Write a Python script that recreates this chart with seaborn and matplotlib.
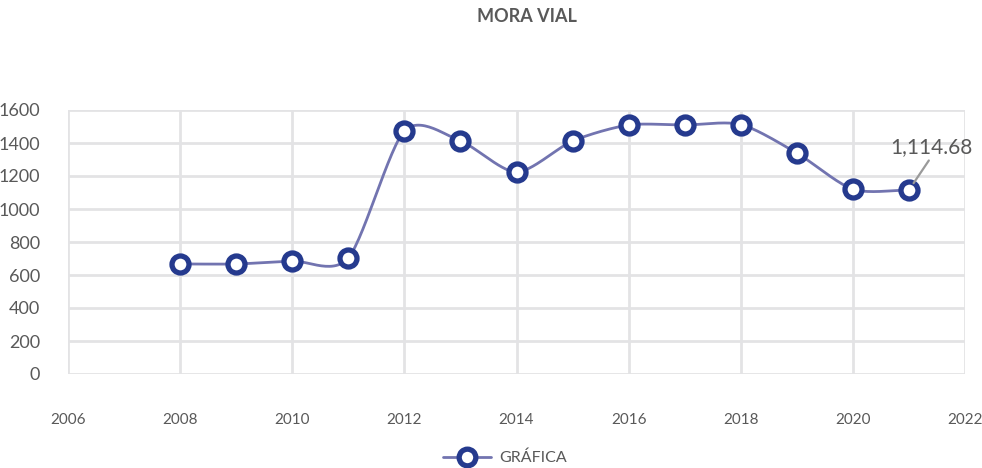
import numpy as np
import pandas as pd
import matplotlib
matplotlib.use("Agg")
import matplotlib.pyplot as plt
import seaborn as sns
from matplotlib.lines import Line2D

years = [2008, 2009, 2010, 2011, 2012, 2013, 2014, 2015, 2016, 2017, 2018, 2019, 2020, 2021]
values = [667, 667, 685, 703, 1473, 1412, 1224, 1412, 1509, 1509, 1512, 1339, 1120, 1114.68]
series_name = "GRÁFICA"
title = "MORA VIAL"
label_text = "1,114.68"

sns.set_theme(style="white")
plt.rcParams['font.family'] = ['Lato', 'DejaVu Sans']

df = pd.DataFrame({"year": years, "value": values})

fig = plt.figure(figsize=(9.82, 4.68), dpi=100)
ax = fig.add_axes([68/982, 1-374/468, (965-68)/982, (374-110)/468])

line_color = "#7274b0"
marker_edge = "#253a8e"
text_color = "#595959"
grid_color = "#e3e3e5"

# Smooth rendering of the line (Catmull-Rom, like spreadsheet smoothing)
def catmull_rom(x, y, n=30, tension=0.4):
    x = np.asarray(x, float); y = np.asarray(y, float)
    px = np.concatenate([[2*x[0]-x[1]], x, [2*x[-1]-x[-2]]])
    py = np.concatenate([[2*y[0]-y[1]], y, [2*y[-1]-y[-2]]])
    xs, ys = [], []
    t = np.linspace(0, 1, n)
    h00 = 2*t**3 - 3*t**2 + 1
    h10 = t**3 - 2*t**2 + t
    h01 = -2*t**3 + 3*t**2
    h11 = t**3 - t**2
    for i in range(1, len(px)-2):
        for arr, out in ((px, xs), (py, ys)):
            p0, p1, p2, p3 = arr[i-1], arr[i], arr[i+1], arr[i+2]
            m1 = tension*(p2 - p0)
            m2 = tension*(p3 - p1)
            out.extend(h00*p1 + h10*m1 + h01*p2 + h11*m2)
    return np.array(xs), np.array(ys)

sx, sy = catmull_rom(df["year"], df["value"])
smooth = pd.DataFrame({"x": sx, "y": sy})
sns.lineplot(data=smooth, x="x", y="y", ax=ax, color=line_color, linewidth=2, sort=False, zorder=3)
sns.scatterplot(data=df, x="year", y="value", ax=ax, s=150, facecolor="white",
                edgecolor=marker_edge, linewidth=3.8, zorder=4)

ax.set_xlim(2006, 2022)
ax.set_ylim(0, 1600)
ax.set_xticks(range(2006, 2023, 2))
ax.set_yticks(range(0, 1601, 200))
ax.grid(True, color=grid_color, linewidth=2)
ax.set_axisbelow(True)
for s in ax.spines.values():
    s.set_visible(False)
ax.tick_params(axis="y", length=0, pad=20, labelsize=13, labelcolor=text_color)
ax.tick_params(axis="x", length=0, pad=28, labelsize=11, labelcolor=text_color)
ax.set_xlabel("")
ax.set_ylabel("")

# data label with leader line
ax.annotate(label_text, xy=(years[-1], values[-1]), xytext=(16, 31),
            textcoords="offset points", zorder=6,
            fontsize=15, color=text_color, ha="center", va="center",
            arrowprops=dict(arrowstyle="-", color="#9a9a9a", lw=1.6,
                            patchA=None, relpos=(0.5, 0.0), shrinkA=3, shrinkB=6))

fig.text(527/982, 1-17/468, title, ha="center", va="center", fontsize=13,
         fontweight="bold", color=text_color)

handle = Line2D([0], [0], color=line_color, lw=2, marker="o", markersize=12,
                markerfacecolor="white", markeredgecolor=marker_edge, markeredgewidth=3.8)
fig.legend([handle], [series_name], loc="center", bbox_to_anchor=(0.514, 1-458/468),
           frameon=False, fontsize=11.5, labelcolor=text_color, handlelength=3.0,
           handletextpad=0.5)

fig.savefig("out.png", dpi=100, facecolor="white")
